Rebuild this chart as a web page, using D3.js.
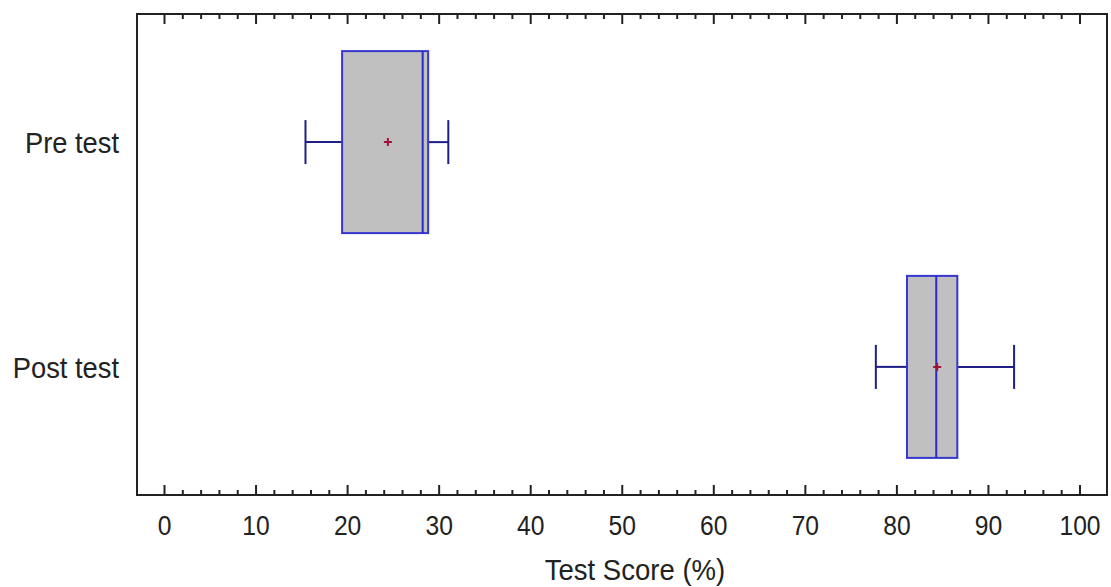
<!DOCTYPE html>
<meta charset="utf-8">
<style>
body { margin: 0; background: #fff; }
text { font-family: "Liberation Sans", Arial, sans-serif; fill: #222; }
.frame { fill: none; stroke: #222; stroke-width: 2px; }
.box { fill: #c0c0c0; stroke: #3636d0; stroke-width: 2px; }
.median { stroke: #2a2ac8; stroke-width: 2px; }
.whisker { stroke: #1e1e86; stroke-width: 2px; }
.mean { stroke: #a0103a; stroke-width: 2px; }
</style>
<div id="chart"></div>
<script src="https://d3js.org/d3.v7.min.js"></script>
<script>

// box plot values
var groups = ["Pre test", "Post test"];
var mins    = [15.4, 77.7];
var q1s     = [19.4, 81.1];
var medians = [28.2, 84.3];
var q3s     = [28.8, 86.6];
var maxs    = [31.0, 92.8];
var means   = [24.4, 84.4];
var xTicks  = [0, 10, 20, 30, 40, 50, 60, 70, 80, 90, 100];

var W = 1111, H = 587;
var frame = {left: 137, right: 1107, top: 14, bottom: 495};

var svg = d3.select("#chart").append("svg")
  .attr("width", W)
  .attr("height", H);

var x = d3.scaleLinear().domain([0, 100]).range([164.5, 1080]);
var y = d3.scalePoint().domain(groups).range([frame.top, frame.bottom]).padding(0.57);

// minor ticks every 2, majors every 10, all pointing inward
var minor = d3.range(0, 101, 2).filter(function(v) { return v % 10 != 0; });

function tickRow(ypos, dir) {
  var g = svg.append("g");
  g.selectAll("line.minor").data(minor).enter().append("line")
    .attr("class", "minor")
    .attr("x1", function(d) { return x(d); })
    .attr("x2", function(d) { return x(d); })
    .attr("y1", ypos)
    .attr("y2", ypos + dir * 5)
    .style("stroke", "#222").style("stroke-width", "2px");
  g.selectAll("line.major").data(xTicks).enter().append("line")
    .attr("class", "major")
    .attr("x1", function(d) { return x(d); })
    .attr("x2", function(d) { return x(d); })
    .attr("y1", ypos)
    .attr("y2", ypos + dir * 10)
    .style("stroke", "#222").style("stroke-width", "2px");
}
tickRow(frame.bottom, -1);
tickRow(frame.top, 1);

// tick labels (the original font is a bit condensed)
svg.append("g").selectAll("text").data(xTicks).enter().append("text")
  .attr("transform", function(d) { return "translate(" + x(d) + ",535) scale(0.88,1)"; })
  .attr("text-anchor", "middle")
  .style("font-size", "28px")
  .text(function(d) { return d; });

// axis title
svg.append("text")
  .attr("transform", "translate(635,580) scale(0.95,1)")
  .attr("text-anchor", "middle")
  .style("font-size", "29px")
  .text("Test Score (%)");

// category labels
svg.append("g").selectAll("text").data(groups).enter().append("text")
  .attr("transform", function(d) { return "translate(119," + (y(d) + 11) + ") scale(0.91,1)"; })
  .attr("text-anchor", "end")
  .style("font-size", "30px")
  .text(function(d) { return d; });

var boxHalf = 91, capHalf = 22;

var rows = groups.map(function(g, i) {
  return {name: g, min: mins[i], q1: q1s[i], med: medians[i], q3: q3s[i], max: maxs[i], mean: means[i]};
});

var bp = svg.append("g").selectAll("g").data(rows).enter().append("g")
  .attr("transform", function(d) { return "translate(0," + y(d.name) + ")"; });

// whiskers
bp.append("line").attr("class", "whisker")
  .attr("x1", function(d) { return x(d.min); })
  .attr("x2", function(d) { return x(d.q1); })
  .attr("y1", 0).attr("y2", 0);
bp.append("line").attr("class", "whisker")
  .attr("x1", function(d) { return x(d.q3); })
  .attr("x2", function(d) { return x(d.max); })
  .attr("y1", 0).attr("y2", 0);
bp.append("line").attr("class", "whisker")
  .attr("x1", function(d) { return x(d.min); })
  .attr("x2", function(d) { return x(d.min); })
  .attr("y1", -capHalf).attr("y2", capHalf);
bp.append("line").attr("class", "whisker")
  .attr("x1", function(d) { return x(d.max); })
  .attr("x2", function(d) { return x(d.max); })
  .attr("y1", -capHalf).attr("y2", capHalf);

// box
bp.append("rect").attr("class", "box")
  .attr("x", function(d) { return x(d.q1); })
  .attr("width", function(d) { return x(d.q3) - x(d.q1); })
  .attr("y", -boxHalf)
  .attr("height", 2 * boxHalf);

// median
bp.append("line").attr("class", "median")
  .attr("x1", function(d) { return x(d.med); })
  .attr("x2", function(d) { return x(d.med); })
  .attr("y1", -boxHalf).attr("y2", boxHalf);

// mean marker (small plus)
bp.append("path").attr("class", "mean")
  .attr("d", function(d) {
    var cx = x(d.mean);
    return "M" + (cx - 4) + ",0H" + (cx + 4) + "M" + cx + ",-4V4";
  });

// frame
svg.append("rect").attr("class", "frame")
  .attr("x", frame.left)
  .attr("y", frame.top)
  .attr("width", frame.right - frame.left)
  .attr("height", frame.bottom - frame.top);

</script>
